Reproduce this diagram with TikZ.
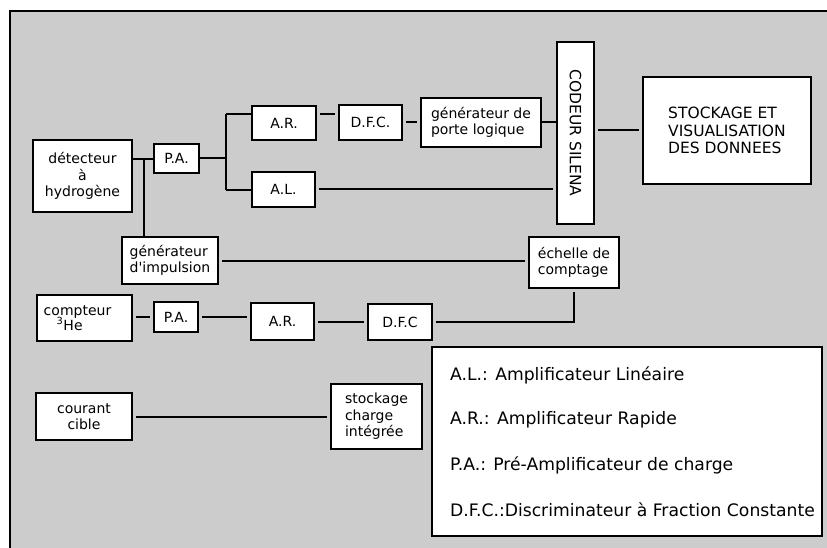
\documentclass[tikz,border=0pt]{standalone}
\usepackage{fontspec}
\setmainfont{DejaVu Sans}
\definecolor{bggray}{RGB}{204,204,204}
\newcommand{\boxfont}{\fontsize{14}{16.5}\selectfont}
\newcommand{\capfont}{\fontsize{15.5}{17.5}\selectfont}
\newcommand{\legfont}{\fontsize{17.2}{20}\selectfont}
\begin{document}
\begin{tikzpicture}[x=1pt,y=-1pt,
  box/.style={draw=black, fill=white, line width=2pt, inner sep=0pt, font=\boxfont},
  wire/.style={line width=2pt},
  wgap/.style={line width=2pt, shorten >=3pt, shorten <=3pt},
  legtext/.style={anchor=west, inner sep=0pt, font=\legfont}]
\useasboundingbox (0,0) rectangle (827,548);
\fill[white] (0,0) rectangle (827,548);
\begin{scope}
\clip (0,0) rectangle (827,548);
\draw[fill=bggray, line width=2pt] (10,11) rectangle (850,570);
\end{scope}
% boxes
\node[box, minimum width=99, minimum height=72, align=center] (det) at (82.5,176) {détecteur\\à\\hydrogène};
\node[box, minimum width=45, minimum height=29] (pa1) at (176.5,158.5) {P.A.};
\node[box, minimum width=64, minimum height=34] (ar1) at (284,123) {A.R.};
\node[box, minimum width=63, minimum height=35] (dfc1) at (370.5,122.5) {D.F.C.};
\node[box, minimum width=63, minimum height=35] (al) at (283.5,189.5) {A.L.};
\node[box, minimum width=120, minimum height=49, align=left] (gp) at (481,122.5) {générateur de\\porte logique};
\node[box, minimum width=37, minimum height=182, font=\capfont] (cod) at (575.5,133) {\rotatebox{-90}{CODEUR SILENA}};
\node[box, minimum width=168, minimum height=107, align=left, font=\capfont] (stk) at (727,130.5) {STOCKAGE ET\\VISUALISATION\\DES DONNEES};
\node[box, minimum width=96, minimum height=47, align=left] (gi) at (170,260.5) {générateur\\d\textquotesingle impulsion};
\node[box, minimum width=90, minimum height=51, align=left] (ech) at (574,262.5) {échelle de\\comptage};
\node[box, minimum width=95, minimum height=46, align=left] (cpt) at (84.5,318) {compteur\hspace*{14pt}\\[-2pt]\hspace*{13pt}\textsuperscript{3}He};
\node[box, minimum width=44, minimum height=30] (pa2) at (176,317) {P.A.};
\node[box, minimum width=63, minimum height=37] (ar2) at (282.5,321.5) {A.R.};
\node[box, minimum width=64, minimum height=36] (dfc2) at (400,322) {D.F.C};
\node[box, minimum width=96, minimum height=47, align=center] (cc) at (84,416.5) {courant\\cible};
\node[box, minimum width=91, minimum height=65, align=left] (sci) at (376.5,416.5) {stockage\\charge\\intégrée};
\node[box, minimum width=390, minimum height=189] (leg) at (627,441.5) {};
\node[legtext] (l1) at (450,375) {A.L.: Amplificateur Linéaire};
\node[legtext] (l2) at (450,420) {A.R.: Amplificateur Rapide};
\node[legtext] (l3) at (450,465) {P.A.: Pré-Amplificateur de charge};
\node[legtext] (l4) at (450,510) {D.F.C.:Discriminateur à Fraction Constante};
% junctions
\coordinate (j1) at (144,159);
\coordinate (bt) at (226,114);
\coordinate (bb) at (226,190);
\coordinate (bm) at (226,158.5);
% connectors
\draw[wire] (det.east |- j1) -- (pa1.west |- j1);
\draw[wire] (j1) -- (j1 |- gi.north);
\draw[wire] (pa1.east) -- (bm);
\draw[wire] (bt) -- (bb);
\draw[wire] (bt) -- (bt -| ar1.west);
\draw[wire] (bb) -- (bb -| al.west);
\draw[wgap] (ar1.east |- bt) -- (dfc1.west |- bt);
\draw[wgap] (dfc1.east |- gp.west) -- (gp.west);
\draw[wire] (gp.east) -- (gp.east -| cod.west);
\draw[wgap] (al.east) -- (al.east -| cod.west);
\draw[wgap] (cod.east |- stk.west) -- (stk.west);
\draw[wgap] (gi.east) -- (gi.east -| ech.west);
\draw[wgap] (dfc2.east) -| (ech.south);
\draw[wgap] (cpt.east |- pa2.west) -- (pa2.west);
\draw[wgap] (pa2.east) -- (pa2.east -| ar2.west);
\draw[wgap] (ar2.east) -- (ar2.east -| dfc2.west);
\draw[wgap] (cc.east) -- (cc.east -| sci.west);
\end{tikzpicture}
\end{document}
